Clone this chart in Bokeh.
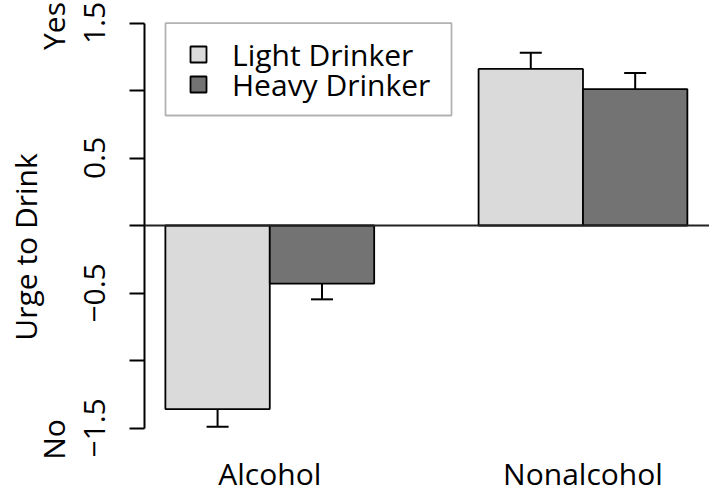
from bokeh.plotting import figure
from bokeh.models import (ColumnDataSource, Range1d, FixedTicker, LinearAxis, Whisker, TeeHead,
                          Span, Legend, LegendItem, BoxAnnotation)
from bokeh.core.properties import value
from bokeh.embed import file_html
from bokeh.resources import INLINE

# ---- data ----
categories = ["Alcohol", "Nonalcohol"]
series_names = ["Light Drinker", "Heavy Drinker"]
light_mean = [-1.36, 1.16]
heavy_mean = [-0.43, 1.01]
light_se = [0.13, 0.12]
heavy_se = [0.117, 0.12]
y_ticks = [-1.5, -1.0, -0.5, 0.0, 0.5, 1.0, 1.5]
y_tick_labels = ["\u22121.5", "", "\u22120.5", "", "0.5", "", "1.5"]
end_label_text = ["Yes", "No"]

FONT = "Open Sans"
FS = "30px"
light_col = "#dadada"
heavy_col = "#737373"

# bar layout like R barplot(beside=TRUE): width 1, one empty slot between groups
light_x = [1.5 + 3 * i for i in range(len(categories))]
heavy_x = [2.5 + 3 * i for i in range(len(categories))]
group_x = [2.0 + 3 * i for i in range(len(categories))]

src_l = ColumnDataSource(dict(x=light_x, top=light_mean,
                              upper=[m + s for m, s in zip(light_mean, light_se)],
                              lower=[m - s for m, s in zip(light_mean, light_se)]))
src_h = ColumnDataSource(dict(x=heavy_x, top=heavy_mean,
                              upper=[m + s for m, s in zip(heavy_mean, heavy_se)],
                              lower=[m - s for m, s in zip(heavy_mean, heavy_se)]))

W, H = 709, 493
left_border = 144
px_per_x = 104.4
px_per_y = 135.0
x0 = 0.8
y_top = 225.0 / px_per_y
p = figure(width=W, height=H, output_backend="svg", toolbar_location=None,
           x_range=Range1d(x0, x0 + (W - left_border) / px_per_x),
           y_range=Range1d(y_top - H / px_per_y, y_top),
           min_border_left=left_border, min_border_right=0, min_border_top=0,
           min_border_bottom=0, x_axis_type=None, y_axis_type=None)
p.grid.visible = False
p.outline_line_color = None
p.background_fill_color = "white"
p.border_fill_color = "white"

zero = Span(location=0, dimension="width", line_color="#222222", line_width=1.8)
p.add_layout(zero)

r_l = p.vbar(x="x", top="top", bottom=0, width=1, source=src_l,
             fill_color=light_col, line_color="black", line_width=1.8)
r_h = p.vbar(x="x", top="top", bottom=0, width=1, source=src_h,
             fill_color=heavy_col, line_color="black", line_width=1.8)

for src in (src_l, src_h):
    w = Whisker(source=src, base="x", upper="upper", lower="lower",
                line_width=2, line_color="black",
                upper_head=TeeHead(size=22, line_width=2, line_color="black"),
                lower_head=TeeHead(size=22, line_width=2, line_color="black"))
    p.add_layout(w)

# category labels under the groups
cat_y = -1.5 - 45 / px_per_y
p.text(x=group_x, y=[cat_y] * len(group_x), text=categories,
       text_font=value(FONT), text_font_size=FS, text_color="black",
       text_align="center", text_baseline="middle")

# main y axis
ya = LinearAxis(ticker=FixedTicker(ticks=y_ticks, minor_ticks=[]),
                major_label_overrides={t: l for t, l in zip(y_ticks, y_tick_labels)},
                bounds=(y_ticks[0], y_ticks[-1]))
ya.axis_line_width = 2
ya.axis_line_color = "black"
ya.major_tick_line_width = 2
ya.major_tick_out = 15
ya.major_tick_in = 0
ya.minor_tick_line_color = None
ya.major_label_orientation = "vertical"
ya.major_label_text_font = FONT
ya.major_label_text_font_size = FS
ya.major_label_text_color = "black"
ya.major_label_standoff = 25
p.add_layout(ya, "left")

# outer axis with Yes / No (placed near the ends of the scale) and the title
end_label_pos = [y_top - 25.5 / px_per_y, y_top - 439.0 / px_per_y]
ya2 = LinearAxis(ticker=FixedTicker(ticks=end_label_pos, minor_ticks=[]),
                 major_label_overrides={t: l for t, l in zip(end_label_pos, end_label_text)})
ya2.axis_line_color = None
ya2.major_tick_line_color = None
ya2.minor_tick_line_color = None
ya2.major_tick_out = 0
ya2.major_tick_in = 0
ya2.major_label_orientation = "vertical"
ya2.major_label_text_font = FONT
ya2.major_label_text_font_size = FS
ya2.major_label_text_color = "black"
ya2.major_label_standoff = 7
ya2.axis_label = "Urge to Drink"
ya2.axis_label_text_font = FONT
ya2.axis_label_text_font_size = FS
ya2.axis_label_text_font_style = "normal"
ya2.axis_label_text_color = "black"
ya2.axis_label_standoff = -16
p.add_layout(ya2, "left")

# legend frame (in data units of the fixed scales)
p.add_layout(BoxAnnotation(left=x0 + (165 - left_border) / px_per_x,
                           right=x0 + (451 - left_border) / px_per_x,
                           top=y_top - 22.7 / px_per_y, bottom=y_top - 115 / px_per_y,
                           fill_color="white", fill_alpha=1,
                           line_color="black", line_width=1.8, level="annotation"))

# one legend per row, so rows sit 30px apart as in the reference
row_centers = [54.5, 84.5]
for name, rend, cy in zip(series_names, [r_l, r_h], row_centers):
    lg = Legend(items=[LegendItem(label=name, renderers=[rend])],
                location=(188 - left_border, H - (cy + 20)), margin=0, padding=0)
    lg.label_text_font = FONT
    lg.label_text_font_size = FS
    lg.label_text_color = "black"
    lg.glyph_width = 20
    lg.glyph_height = 20
    lg.label_standoff = 24
    lg.border_line_color = None
    lg.background_fill_alpha = 0
    p.add_layout(lg, "center")

open("out.html", "w").write(file_html(p, INLINE))
